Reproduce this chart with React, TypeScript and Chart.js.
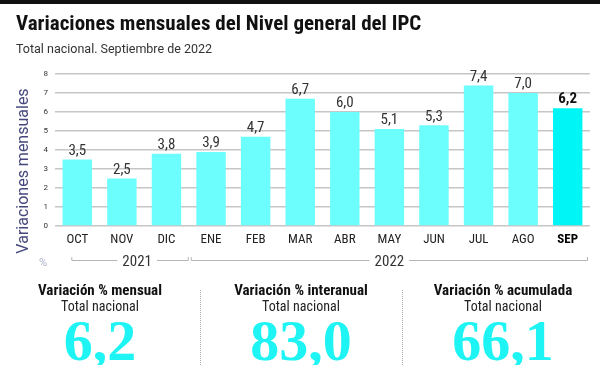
import React, { useEffect, useRef } from 'react';
import { Chart, registerables } from 'chart.js';
Chart.register(...registerables);

const categories = ['OCT', 'NOV', 'DIC', 'ENE', 'FEB', 'MAR', 'ABR', 'MAY', 'JUN', 'JUL', 'AGO', 'SEP'];
const values = [3.5, 2.5, 3.8, 3.9, 4.7, 6.7, 6.0, 5.1, 5.3, 7.4, 7.0, 6.2];
const yMin = 0;
const yMax = 8;
const yStep = 1;
const yearLabels = ['2021', '2022'];
const yearStart = [0, 3];
const yearEnd = [2, 11];
const summaryTitles = ['Variación % mensual', 'Variación % interanual', 'Variación % acumulada'];
const summarySubtitle = 'Total nacional';
const summaryValues = ['6,2', '83,0', '66,1'];

const title = 'Variaciones mensuales del Nivel general del IPC';
const subtitle = 'Total nacional. Septiembre de 2022';
const yTitle = 'Variaciones mensuales';

const NARROW = '"Liberation Sans Narrow", "Roboto Condensed", Roboto, "Liberation Sans", sans-serif';
const SANS = 'Roboto, "Liberation Sans", Arial, sans-serif';

const fmt = (v: number) => v.toFixed(1).replace('.', ',');

const valueLabelPlugin = {
  id: 'valueLabels',
  afterDatasetsDraw(chart: any) {
    const ctx = chart.ctx;
    const meta = chart.getDatasetMeta(0);
    ctx.save();
    ctx.textAlign = 'center';
    ctx.textBaseline = 'bottom';
    meta.data.forEach((bar: any, i: number) => {
      const last = i === values.length - 1;
      ctx.font = (last ? 'bold ' : '') + '15px ' + NARROW;
      ctx.fillStyle = last ? '#111' : '#333';
      ctx.fillText(fmt(values[i]), bar.x, bar.y - 1);
    });
    ctx.restore();
  },
};

const decorPlugin = {
  id: 'decor',
  afterDraw(chart: any) {
    const ctx = chart.ctx;
    const x = chart.scales.x;
    const area = chart.chartArea;
    ctx.save();
    ctx.translate(24, (area.top + area.bottom) / 2 + 21);
    ctx.rotate(-Math.PI / 2);
    ctx.font = '16px ' + SANS;
    ctx.fillStyle = '#45487c';
    ctx.textAlign = 'center';
    ctx.textBaseline = 'middle';
    ctx.fillText(yTitle, 0, 0);
    ctx.restore();

    ctx.save();
    ctx.font = '11px ' + SANS;
    ctx.fillStyle = '#aab0cc';
    ctx.textAlign = 'center';
    ctx.textBaseline = 'middle';
    ctx.fillText('%', 43, area.bottom + 37);

    const lineY = area.bottom + 34;
    const half = (x.getPixelForValue(1) - x.getPixelForValue(0)) / 2;
    ctx.font = '15px ' + NARROW;
    ctx.fillStyle = '#333';
    ctx.strokeStyle = '#b5b5b5';
    ctx.lineWidth = 1;
    yearLabels.forEach((lab, k) => {
      const s = k === 0 ? x.getPixelForValue(yearStart[k]) - 6 : x.getPixelForValue(yearStart[k]) - half + 2;
      const e = k === yearLabels.length - 1 ? x.getPixelForValue(yearEnd[k]) + half - 2 : x.getPixelForValue(yearEnd[k]) + half;
      const cx = k === 0 ? (x.getPixelForValue(1) + x.getPixelForValue(2)) / 2 - 7 : x.getPixelForValue(7);
      const w = ctx.measureText(lab).width;
      ctx.beginPath();
      ctx.moveTo(s + 0.5, lineY - 3);
      ctx.lineTo(s + 0.5, lineY + 0.5);
      ctx.lineTo(cx - w / 2 - 5, lineY + 0.5);
      ctx.moveTo(cx + w / 2 + 5, lineY + 0.5);
      ctx.lineTo(e - 0.5, lineY + 0.5);
      ctx.lineTo(e - 0.5, lineY - 3);
      ctx.stroke();
      ctx.fillText(lab, cx, lineY + 2);
    });
    ctx.restore();
  },
};

export default function App() {
  const ref = useRef<HTMLCanvasElement | null>(null);
  useEffect(() => {
    document.body.style.margin = '0';
    if (!ref.current) return;
    const ticks: number[] = [];
    for (let v = yMin; v <= yMax; v += yStep) ticks.push(v);
    const chart = new Chart(ref.current, {
      type: 'bar',
      data: {
        labels: categories,
        datasets: [
          {
            data: values,
            backgroundColor: values.map((_, i) => (i === values.length - 1 ? '#00f6f6' : '#6cfdfd')),
            barPercentage: 0.66,
            categoryPercentage: 1,
          },
        ],
      },
      options: {
        responsive: false,
        animation: false,
        events: [],
        layout: { padding: { top: 74, left: 0, right: 10, bottom: 109 } },
        plugins: { legend: { display: false }, tooltip: { enabled: false } },
        scales: {
          x: {
            grid: { display: false, drawTicks: false },
            border: { display: false },
            afterFit: (s: any) => {
              s.height = 30;
            },
            ticks: {
              padding: 6,
              color: (c: any) => (c.index === categories.length - 1 ? '#000' : '#222'),
              font: (c: any) =>
                c.index === categories.length - 1
                  ? { family: NARROW, size: 13, weight: 'bold' }
                  : { family: NARROW, size: 13 },
            },
          },
          y: {
            min: yMin,
            max: yMax,
            afterFit: (s: any) => {
              s.width = 55;
            },
            afterBuildTicks: (s: any) => {
              s.ticks = ticks.map((v) => ({ value: v }));
            },
            grid: { color: '#c6c6c6', lineWidth: 1.5, drawTicks: false },
            border: { display: false },
            ticks: { padding: 7, color: '#333', font: { family: SANS, size: 8 } },
          },
        },
      },
      plugins: [valueLabelPlugin, decorPlugin],
    });
    return () => chart.destroy();
  }, []);

  const panelCenters = [100, 301, 503];
  return (
    <div style={{ position: 'relative', width: 600, height: 365, overflow: 'hidden', background: '#fff' }}>
      <canvas ref={ref} width={600} height={365} style={{ position: 'absolute', left: 0, top: 0 }} />
      <div style={{ position: 'absolute', left: 0, top: 0, width: 600, height: 4, background: '#111' }} />
      <div
        style={{
          position: 'absolute', left: 16, top: 14, fontFamily: NARROW, fontWeight: 'bold',
          fontSize: 21, lineHeight: '19px', color: '#111', whiteSpace: 'nowrap',
        }}
      >
        {title}
      </div>
      <div
        style={{
          position: 'absolute', left: 16, top: 42, fontFamily: SANS, fontSize: 12.5,
          lineHeight: '13px', color: '#333', whiteSpace: 'nowrap',
        }}
      >
        {subtitle}
      </div>
      {[200, 402].map((x) => (
        <div key={x} style={{ position: 'absolute', left: x, top: 290, height: 75, borderLeft: '1px dotted #aaa' }} />
      ))}
      {summaryTitles.map((t, i) => (
        <div key={t} style={{ position: 'absolute', left: panelCenters[i] - 100, width: 200, top: 0, textAlign: 'center' }}>
          <div style={{ position: 'absolute', left: 0, width: 200, top: 284, fontFamily: NARROW, fontWeight: 'bold', fontSize: 15, lineHeight: '13px', color: '#111' }}>{t}</div>
          <div style={{ position: 'absolute', left: 0, width: 200, top: 300, fontFamily: NARROW, fontSize: 14, lineHeight: '13px', color: '#222' }}>{summarySubtitle}</div>
          <div style={{ position: 'absolute', left: 0, width: 200, top: 312, fontFamily: '"Liberation Serif", "DejaVu Serif", serif', fontWeight: 'bold', fontSize: 58, lineHeight: '58px', color: '#1ff4f4' }}>{summaryValues[i]}</div>
        </div>
      ))}
    </div>
  );
}
